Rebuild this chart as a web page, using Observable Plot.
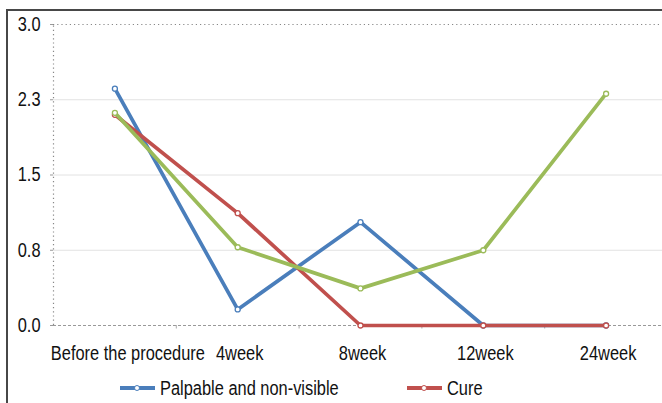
<!DOCTYPE html>
<html>
<head>
<meta charset="utf-8">
<script src="https://cdn.jsdelivr.net/npm/d3@7"></script>
<script src="https://cdn.jsdelivr.net/npm/@observablehq/plot@0.6"></script>
<style>
  html, body { margin: 0; padding: 0; background: #fff; overflow: hidden; }
  #wrap { position: relative; width: 662px; height: 403px; overflow: hidden;
          font-family: "Liberation Sans", Arial, sans-serif; }
  #frame { position: absolute; left: 6px; top: 9px; width: 700px; height: 420px;
           border-top: 2px solid #474747; border-left: 2px solid #474747; pointer-events: none; }
  #legend { position: relative; margin-top: 8px; height: 24px; font-size: 20px; color: #111; white-space: nowrap; }
  .item { position: absolute; top: 0; height: 24px; display: flex; align-items: center; }
  .swatch { position: relative; width: 35px; height: 4px; margin-right: 5px; flex: none; }
  .swatch i { position: absolute; left: 14px; top: -1.5px; width: 4px; height: 4px; border-radius: 50%;
              background: #fff; border: 1.2px solid; box-sizing: content-box; }
  .item span { display: inline-block; transform: scaleX(0.82); transform-origin: left center; line-height: 24px; }
</style>
</head>
<body>
<div id="wrap"><div id="chart"></div><div id="legend"></div><div id="frame"></div></div>
<script>
const categories = ["Before the procedure", "4week", "8week", "12week", "24week"];
const palpable = [2.36, 0.16, 1.03, 0, 0];
const cure = [2.10, 1.12, 0, 0, 0];
const thirdSeries = [2.12, 0.78, 0.37, 0.75, 2.31];
const yTicks = [0, 0.75, 1.5, 2.25, 3];
const yTickLabels = ["0.0", "0.8", "1.5", "2.3", "3.0"];
const gridValues = [0.75, 1.5, 2.25];
const bandBounds = [0.5, 1.5, 2.5, 3.5];

const seriesList = [
  {name: "Palpable and non-visible", values: palpable, color: "#4a7ebb", legend: true, left: 120},
  {name: "Cure", values: cure, color: "#c0504d", legend: true, left: 407},
  {name: "", values: thirdSeries, color: "#9bbb59", legend: false}
];

const marks = [
  Plot.ruleY(gridValues, {stroke: "#e2e2e2", strokeWidth: 1}),
  Plot.ruleY([3], {stroke: "#888", strokeWidth: 1.2, strokeDasharray: "1.2,3"}),
  Plot.ruleX([-0.5], {y1: 0, y2: 3, stroke: "#888", strokeWidth: 1.2, strokeDasharray: "1.2,3"}),
  Plot.ruleY([0], {stroke: "#999", strokeWidth: 1.2, strokeDasharray: "3,2"}),
  Plot.ruleX(bandBounds, {y1: 0, y2: -0.035, stroke: "#aaa", strokeWidth: 1}),
  Plot.axisY(yTicks, {tickSize: 3, tickPadding: 10, stroke: "#999", label: null,
    tickFormat: (d) => yTickLabels[yTicks.indexOf(d)], fill: "#111"}),
  Plot.axisX([0], {tickSize: 0, tickPadding: 20, fill: "#111", label: null, dx: 13,
    tickFormat: (i) => categories[i]}),
  Plot.axisX([1, 2, 3, 4], {tickSize: 0, tickPadding: 20, fill: "#111", label: null, dx: 2,
    tickFormat: (i) => categories[i]})
];
for (const s of seriesList) {
  const data = categories.map((c, i) => ({i, v: s.values[i]}));
  marks.push(Plot.line(data, {x: "i", y: "v", stroke: s.color, strokeWidth: 3.7}));
  marks.push(Plot.dot(data, {x: "i", y: "v", r: 2.5, fill: "white", stroke: s.color, strokeWidth: 1.3}));
}

const plot = Plot.plot({
  width: 662,
  height: 368,
  marginLeft: 53,
  marginTop: 24,
  marginBottom: 43,
  marginRight: 0,
  style: {fontSize: "20px", fontFamily: "'Liberation Sans', Arial, sans-serif", background: "transparent"},
  x: {domain: [-0.5, 4.5], range: [53, 667], axis: null},
  y: {domain: [0, 3], axis: null},
  marks
});
document.getElementById("chart").appendChild(plot);

// condense text horizontally (narrow face look) without moving anchors
plot.querySelectorAll("text").forEach((t) => {
  const L = t.getComputedTextLength();
  if (L > 0) {
    t.setAttribute("textLength", (L * 0.82).toFixed(2));
    t.setAttribute("lengthAdjust", "spacingAndGlyphs");
  }
});

const legend = d3.select("#legend");
seriesList.filter((s) => s.legend).forEach((s) => {
  const item = legend.append("div").attr("class", "item").style("left", s.left + "px");
  item.append("div").attr("class", "swatch").style("background", s.color)
    .append("i").style("border-color", s.color);
  item.append("span").text(s.name);
});
</script>
</body>
</html>
